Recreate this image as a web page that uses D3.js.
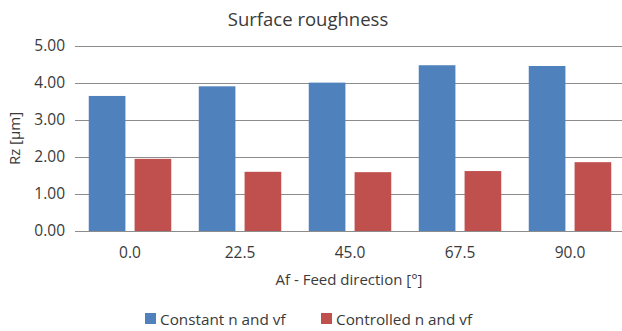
<!DOCTYPE html>
<html lang="en">
<head>
<meta charset="UTF-8">
<title>Surface roughness</title>
<style>
  body { margin: 0; background: #fff; }
  text { font-family: "Open Sans", sans-serif; fill: #3a3a3a; }
</style>
</head>
<body>
<script src="https://cdn.jsdelivr.net/npm/d3@7"></script>
<script>
// data
const categories = ["0.0", "22.5", "45.0", "67.5", "90.0"];
const seriesNames = ["Constant n and vf", "Controlled n and vf"];
const constantVals = [3.65, 3.91, 4.01, 4.48, 4.46];
const controlledVals = [1.95, 1.60, 1.59, 1.62, 1.86];
const yTicks = [0, 1, 2, 3, 4, 5];
const colors = ["#4f81bd", "#c0504d"];

const width = 622, height = 331;
const margin = {top: 46, right: -3, bottom: 100, left: 75};

const svg = d3.create("svg")
    .attr("width", width)
    .attr("height", height);

const x = d3.scaleBand()
    .domain(categories)
    .range([margin.left, width - margin.right])
    .paddingInner(0.25)
    .paddingOuter(0.125);

const xs = d3.scaleBand()
    .domain(seriesNames)
    .range([0, x.bandwidth()])
    .paddingInner(0.2);

const y = d3.scaleLinear()
    .domain([0, 5])
    .range([height - margin.bottom, margin.top]);

// gridlines
svg.append("g")
    .selectAll("line")
    .data(yTicks)
    .join("line")
      .attr("x1", margin.left)
      .attr("x2", width - margin.right)
      .attr("y1", d => Math.round(y(d)) + 0.5)
      .attr("y2", d => Math.round(y(d)) + 0.5)
      .attr("stroke", "#8c8c8c")
      .attr("stroke-width", 1);

// y labels
svg.append("g")
    .selectAll("text")
    .data(yTicks)
    .join("text")
      .attr("x", 65)
      .attr("y", d => y(d))
      .attr("dy", "0.35em")
      .attr("text-anchor", "end")
      .style("font-size", "15.5px")
      .text(d => d3.format(".2f")(d));

// bars
const rows = categories.map((c, i) => ({cat: c, vals: [constantVals[i], controlledVals[i]]}));

const grp = svg.append("g")
    .selectAll("g")
    .data(rows)
    .join("g")
      .attr("transform", d => `translate(${x(d.cat)},0)`);

grp.selectAll("rect")
    .data(d => d.vals.map((v, j) => ({name: seriesNames[j], v, j})))
    .join("rect")
      .attr("x", d => xs(d.name))
      .attr("y", d => y(d.v))
      .attr("width", xs.bandwidth())
      .attr("height", d => y(0) - y(d.v))
      .attr("fill", d => colors[d.j]);

// x labels
svg.append("g")
    .selectAll("text")
    .data(categories)
    .join("text")
      .attr("x", d => x(d) + x.bandwidth() / 2)
      .attr("y", 258)
      .attr("text-anchor", "middle")
      .style("font-size", "15.5px")
      .text(d => d);

// titles
svg.append("text")
    .attr("x", 308)
    .attr("y", 26)
    .attr("text-anchor", "middle")
    .style("font-size", "18.5px")
    .text("Surface roughness");

svg.append("text")
    .attr("x", 349)
    .attr("y", 285)
    .attr("text-anchor", "middle")
    .style("font-size", "15px")
    .text("Af - Feed direction [°]");

svg.append("text")
    .attr("transform", `translate(20,${(y(0) + y(5)) / 2}) rotate(-90)`)
    .attr("text-anchor", "middle")
    .style("font-size", "15px")
    .text("Rz [µm]");

// legend
const legendX = [145, 321];
const leg = svg.append("g")
    .selectAll("g")
    .data(seriesNames)
    .join("g")
      .attr("transform", (d, i) => `translate(${legendX[i]},313)`);
leg.append("rect")
    .attr("width", 11)
    .attr("height", 11)
    .attr("fill", (d, i) => colors[i]);
leg.append("text")
    .attr("x", 15)
    .attr("y", 11.5)
    .style("font-size", "15.3px")
    .text(d => d);

document.body.appendChild(svg.node());
</script>
</body>
</html>
